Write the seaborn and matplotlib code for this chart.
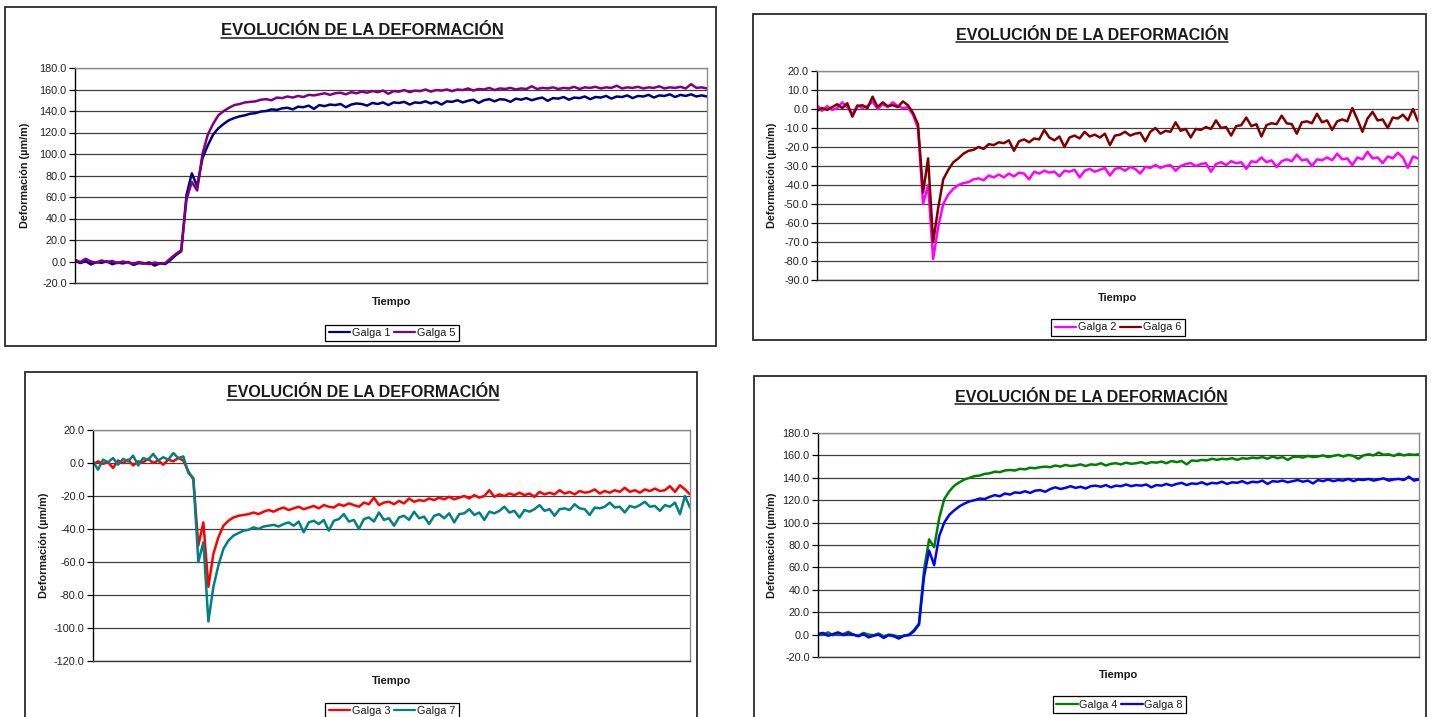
import numpy as np
import matplotlib
matplotlib.use('Agg')
import matplotlib.pyplot as plt
import seaborn as sns
from matplotlib.patches import Rectangle
from matplotlib.lines import Line2D

# Estilo
sns.set_style('white')
plt.rcParams['font.family'] = ['Liberation Sans', 'DejaVu Sans']

# Datos (deformacion en um/m)
galga_1 = [0.8, -1.5, 0.5, -2.8, -0.6, -1.2, 0.2, -2.5, -1.0, -1.8,
           -0.4, -3.2, -1.5, -2.0, -0.9, -3.8, -1.6, -2.4, 1.5, 6.0,
           9.5, 62.0, 82.0, 70.0, 96.0, 108.0, 118.0, 124.0, 128.0, 131.5,
           133.5, 135.0, 136.0, 137.5, 138.0, 139.5, 140.0, 141.5, 141.0, 142.5,
           143.0, 141.5, 144.0, 143.5, 145.0, 142.0, 145.5, 144.5, 146.0, 145.5,
           146.5, 143.5, 146.0, 147.0, 146.5, 145.0, 147.5, 146.5, 148.0, 145.5,
           148.0, 147.5, 148.5, 146.0, 148.0, 147.5, 149.0, 147.0, 148.5, 146.0,
           149.0, 148.5, 150.0, 148.0, 149.5, 150.5, 147.5, 150.0, 151.0, 149.0,
           151.0, 150.5, 148.5, 151.5, 150.5, 152.0, 150.0, 151.5, 152.5, 149.5,
           152.0, 151.5, 153.0, 150.5, 152.5, 152.0, 153.5, 151.0, 153.0, 152.5,
           154.0, 151.5, 153.5, 153.0, 154.5, 152.0, 154.0, 153.5, 155.0, 152.5,
           154.5, 154.0, 155.5, 153.0, 155.0, 154.0, 155.5, 153.5, 154.5, 153.5]
galga_5 = [1.5, -0.5, 2.5, 0.0, -1.0, 1.0, -0.5, 0.5, -1.5, 0.0,
           -1.0, -2.0, -0.5, -1.5, -2.5, -1.0, -2.0, -1.5, 3.0, 7.0,
           10.5, 58.0, 74.0, 66.0, 100.0, 118.0, 128.0, 136.0, 140.0, 143.0,
           145.5, 146.5, 148.0, 148.5, 149.0, 150.5, 151.0, 150.0, 152.5, 152.0,
           153.5, 152.5, 154.0, 153.0, 155.0, 154.5, 155.5, 156.5, 155.0, 156.5,
           157.0, 155.5, 157.5, 156.5, 158.0, 157.0, 158.5, 157.5, 159.0, 156.0,
           158.5, 158.0, 159.5, 157.5, 159.0, 158.5, 160.0, 158.0, 159.5, 159.0,
           160.0, 158.5, 160.0, 159.5, 161.0, 159.0, 160.5, 160.0, 161.5, 159.5,
           161.0, 160.5, 161.5, 160.0, 161.0, 160.5, 163.0, 160.5, 161.5, 161.0,
           162.0, 160.5, 161.5, 161.0, 162.5, 160.5, 162.0, 161.5, 162.5, 161.0,
           162.0, 161.5, 163.5, 161.0, 162.0, 161.5, 162.5, 161.0, 162.0, 161.5,
           163.0, 161.0, 162.0, 161.5, 162.5, 161.0, 165.0, 161.5, 162.0, 161.0]

galga_2 = [2.0, -1.0, 1.5, -0.5, 0.5, 3.5, 1.0, -3.0, 2.0, 0.5,
           1.5, 4.0, 0.0, 2.5, 1.0, 3.5, 1.5, 0.5, 1.0, -3.0,
           -10.0, -50.0, -40.0, -79.0, -62.0, -50.0, -45.0, -42.0, -40.0, -39.0,
           -38.5, -37.0, -36.5, -37.5, -35.0, -36.0, -34.5, -36.0, -34.0, -35.5,
           -33.5, -34.0, -37.0, -33.0, -34.0, -32.5, -33.5, -33.0, -35.5, -32.5,
           -33.0, -32.0, -36.0, -32.5, -31.5, -33.0, -32.0, -31.0, -35.0, -31.5,
           -31.0, -32.5, -30.5, -31.5, -34.0, -30.5, -31.0, -29.5, -31.0, -30.0,
           -29.5, -32.5, -30.0, -29.0, -28.5, -30.0, -29.0, -28.5, -33.0, -29.0,
           -28.0, -29.5, -27.5, -28.5, -28.0, -31.5, -27.5, -28.0, -25.5, -28.0,
           -27.0, -30.5, -27.5, -26.5, -27.5, -24.0, -27.0, -26.5, -30.0, -26.5,
           -27.0, -25.5, -27.0, -23.5, -26.5, -26.0, -29.5, -25.5, -26.5, -22.5,
           -26.0, -25.5, -28.5, -25.0, -26.0, -23.0, -25.5, -31.0, -25.0, -26.0]
galga_6 = [-1.0, 0.5, -0.5, 1.0, 2.5, 0.5, 3.0, -4.0, 1.5, 2.0,
           0.5, 6.5, 1.0, 3.5, 1.5, 2.0, 1.0, 4.0, 2.0, -2.0,
           -8.0, -44.0, -26.0, -70.0, -52.0, -37.0, -32.0, -28.0, -26.0, -23.5,
           -22.0, -21.5, -20.0, -21.0, -18.5, -19.0, -17.5, -18.0, -16.5, -22.0,
           -17.0, -16.0, -17.5, -15.5, -16.0, -11.0, -15.0, -16.5, -14.5, -20.0,
           -15.0, -14.0, -15.5, -12.0, -14.5, -13.5, -15.0, -13.0, -19.0, -14.0,
           -13.5, -12.0, -14.0, -13.0, -12.5, -17.0, -12.0, -10.0, -13.0, -11.5,
           -12.0, -7.0, -11.5, -10.5, -15.0, -10.5, -11.0, -9.5, -10.5, -6.0,
           -10.0, -9.5, -14.0, -9.0, -8.5, -4.5, -9.0, -8.0, -14.5, -8.5,
           -7.5, -8.0, -3.5, -7.5, -8.0, -13.0, -7.0, -6.5, -7.5, -2.5,
           -7.0, -6.0, -11.0, -6.5, -5.5, -6.5, 0.5, -5.5, -12.0, -5.0,
           -1.5, -6.0, -5.5, -10.0, -4.5, -5.0, -3.0, -6.0, 0.0, -6.5]

galga_3 = [-1.0, 1.0, -0.5, 0.5, -3.0, 1.5, 0.0, 2.0, -1.5, 1.0,
           0.5, 2.5, 0.0, 1.5, -1.0, 2.0, 1.0, 3.0, 1.5, -5.0,
           -10.0, -50.0, -36.0, -75.0, -55.0, -45.0, -38.0, -35.0, -33.0, -32.0,
           -31.5, -31.0, -30.0, -31.0, -29.5, -28.5, -29.5, -28.0, -27.0, -28.5,
           -27.5, -26.5, -28.0, -27.0, -26.0, -27.5, -25.5, -26.5, -27.0, -25.0,
           -26.0, -24.5, -25.5, -26.5, -24.0, -25.0, -21.0, -25.5, -24.0, -23.5,
           -25.0, -23.0, -24.5, -21.5, -23.5, -22.5, -23.0, -21.5, -22.5, -21.0,
           -22.0, -20.5, -22.0, -21.0, -20.0, -21.5, -19.5, -21.0, -20.0, -16.5,
           -20.5, -19.0, -20.0, -18.5, -19.5, -18.0, -19.5, -18.5, -20.5, -17.5,
           -19.0, -18.0, -19.0, -16.5, -18.5, -17.5, -19.0, -17.0, -18.0, -17.5,
           -16.0, -18.5, -17.0, -18.0, -16.5, -17.5, -15.0, -17.5, -16.5, -18.0,
           -16.0, -17.0, -15.5, -17.0, -16.5, -14.0, -17.5, -13.5, -16.0, -19.0]
galga_7 = [1.0, -4.0, 2.0, 0.5, 3.0, -1.0, 2.5, 1.0, 4.5, -1.5,
           3.0, 2.0, 5.5, 1.5, 3.5, 2.0, 6.0, 3.0, 4.0, -6.0,
           -9.0, -60.0, -48.0, -96.0, -75.0, -62.0, -52.0, -47.0, -44.0, -42.5,
           -41.0, -40.5, -39.0, -40.0, -38.5, -38.0, -37.5, -38.5, -37.0, -36.0,
           -38.0, -35.5, -42.0, -36.0, -35.0, -37.0, -34.5, -41.0, -35.0, -34.0,
           -31.0, -35.5, -34.5, -40.0, -34.0, -33.0, -35.5, -30.0, -34.5, -33.5,
           -38.0, -33.0, -32.0, -34.5, -29.5, -33.5, -32.5, -37.0, -32.0, -31.0,
           -33.5, -30.5, -36.0, -31.0, -30.5, -28.0, -31.5, -30.0, -34.5, -29.5,
           -30.5, -29.0, -26.5, -30.0, -29.0, -33.0, -28.5, -29.5, -28.0, -25.5,
           -29.0, -28.0, -32.0, -28.0, -27.5, -28.5, -25.0, -27.5, -28.0, -31.5,
           -27.0, -27.5, -26.5, -24.0, -27.0, -26.5, -30.0, -26.0, -27.0, -25.5,
           -23.5, -26.5, -26.0, -29.0, -25.5, -26.5, -24.0, -31.0, -20.0, -27.0]

galga_4 = [1.0, 0.0, 2.0, -0.5, 1.0, 0.5, 2.5, 0.0, -1.0, 1.5,
           0.0, -0.5, 1.0, -1.5, 0.0, -0.5, -2.5, -1.0, 0.0, 4.0,
           10.0, 58.0, 85.0, 78.0, 104.0, 121.0, 128.0, 133.0, 136.0, 138.5,
           140.0, 141.5, 142.0, 143.5, 144.0, 145.5, 145.0, 146.5, 147.0, 146.5,
           148.0, 147.5, 149.0, 148.5, 149.5, 150.0, 149.5, 151.0, 150.0, 151.5,
           150.5, 151.0, 152.0, 150.5, 152.0, 151.5, 153.0, 151.0, 152.5, 153.0,
           152.0, 153.5, 152.5, 153.0, 154.0, 152.5, 154.0, 153.5, 154.5, 153.0,
           155.0, 154.0, 155.0, 152.0, 155.5, 155.0, 156.0, 155.5, 157.0, 156.0,
           157.0, 156.5, 157.5, 156.0, 157.5, 157.0, 158.0, 157.5, 158.5, 157.0,
           159.0, 157.5, 158.5, 156.0, 158.5, 159.0, 158.0, 159.5, 158.5, 159.0,
           160.0, 158.5, 159.5, 160.5, 159.0, 160.5, 159.5, 157.0, 160.0, 161.0,
           160.0, 162.5, 160.5, 161.0, 159.5, 161.5, 160.0, 161.0, 160.5, 161.0]
galga_8 = [0.5, 1.5, -1.0, 0.5, 2.0, -0.5, 1.0, 0.0, -1.5, 0.5,
           -2.5, -1.0, 0.0, -3.0, -0.5, -1.5, -3.5, -1.0, -0.5, 3.0,
           9.0, 52.0, 75.0, 62.0, 88.0, 100.0, 107.0, 111.0, 114.5, 117.0,
           119.0, 120.0, 121.5, 121.0, 123.0, 124.5, 123.5, 126.0, 125.0, 127.0,
           126.5, 128.0, 126.5, 128.5, 129.0, 127.5, 130.0, 131.5, 130.0, 131.0,
           132.5, 131.0, 132.0, 130.5, 132.5, 133.0, 132.0, 133.5, 131.5, 133.0,
           132.5, 134.0, 132.5, 133.5, 133.0, 134.0, 131.5, 133.5, 133.0, 134.5,
           133.0, 134.5, 135.5, 133.5, 135.0, 134.5, 136.0, 134.0, 135.5, 135.0,
           136.5, 134.5, 136.0, 135.5, 137.0, 135.0, 136.5, 136.0, 137.5, 134.5,
           137.0, 136.5, 137.5, 136.0, 137.0, 138.0, 136.5, 137.5, 135.0, 138.0,
           137.0, 138.5, 137.0, 138.0, 137.5, 139.0, 137.0, 138.5, 138.0, 139.0,
           137.5, 138.5, 139.5, 137.5, 138.5, 139.0, 138.0, 141.0, 137.5, 138.5]

TITULO = 'EVOLUCIÓN DE LA DEFORMACIÓN'
YLABEL = 'Deformación (µm/m)'
XLABEL = 'Tiempo'

# Geometria en pixeles de la imagen original
W, H = 1431, 717


def fx(px):
    return px / W


def fy(py):
    return 1 - py / H


panels = [
    dict(box=(5, 7, 716, 346), plot=(75, 68, 707, 283), ylim=(-20, 180), step=20,
         series=[('Galga 1', galga_1, '#000080'), ('Galga 5', galga_5, '#800080')],
         title=(362, 35.2, 12), under=37.8, ylab=25.5, tiempo=302, leg=(392, 333)),
    dict(box=(753, 14, 1426, 340), plot=(817, 71, 1418, 280), ylim=(-90, 20), step=10,
         series=[('Galga 2', galga_2, '#FF00FF'), ('Galga 6', galga_6, '#800000')],
         title=(1092, 40.0, 11.5), under=42.3, ylab=772, tiempo=298, leg=(1118, 327.5)),
    dict(box=(25, 372, 697, 740), plot=(93, 430, 690, 661), ylim=(-120, 20), step=20,
         series=[('Galga 3', galga_3, '#FF0000'), ('Galga 7', galga_7, '#008080')],
         title=(363, 397.3, 11.5), under=400.0, ylab=44, tiempo=680.5, leg=(392, 711)),
    dict(box=(754, 376, 1426, 740), plot=(818, 433, 1419, 657), ylim=(-20, 180), step=20,
         series=[('Galga 4', galga_4, '#008000'), ('Galga 8', galga_8, '#0000FF')],
         title=(1091, 401.5, 11.5), under=404.0, ylab=772, tiempo=675.5, leg=(1119.5, 704.5)),
]

fig = plt.figure(figsize=(W / 100, H / 100), dpi=100)
fig.patch.set_facecolor('white')

titles = []
for p in panels:
    # Marco del grafico
    bx0, by0, bx1, by1 = p['box']
    fig.patches.append(Rectangle((fx(bx0), fy(by1)), fx(bx1) - fx(bx0), fy(by0) - fy(by1),
                                 transform=fig.transFigure, fill=False,
                                 edgecolor='#2b2b2b', linewidth=1.3))

    # Area de trazado
    px0, py0, px1, py1 = p['plot']
    ax = fig.add_axes([fx(px0), fy(py1), fx(px1) - fx(px0), fy(py0) - fy(py1)])
    ax.set_facecolor('white')
    for name, vals, color in p['series']:
        sns.lineplot(x=np.arange(len(vals)), y=vals, color=color, linewidth=1.8,
                     ax=ax, legend=False)
    n = len(p['series'][0][1])
    ax.set_xlim(0, n - 1)
    lo, hi = p['ylim']
    ticks = np.arange(lo, hi + p['step'] / 2, p['step'])
    ax.set_ylim(lo, hi)
    ax.set_yticks(ticks)
    ax.set_yticklabels([f'{t:.1f}' for t in ticks])
    ax.set_xticks([])
    ax.set_xlabel('')
    ax.set_ylabel('')
    ax.grid(axis='y', color='#404040', linewidth=0.9)
    ax.grid(axis='x', visible=False)
    ax.set_axisbelow(True)
    ax.spines['left'].set_color('black')
    ax.spines['left'].set_linewidth(1.0)
    ax.spines['bottom'].set_color('#3a3a3a')
    ax.spines['top'].set_color('#8c8c8c')
    ax.spines['right'].set_color('#8c8c8c')
    for s in ['bottom', 'top', 'right']:
        ax.spines[s].set_linewidth(1.0)
    ax.tick_params(axis='y', direction='out', left=True, length=4, width=0.9,
                   color='black', pad=2, labelsize=7.8, labelcolor='#222222')

    # Textos
    tx, ty, ts = p['title']
    t = fig.text(fx(tx), fy(ty), TITULO, ha='center', va='baseline', fontsize=ts,
                 fontweight='bold', color='#1a1a1a')
    titles.append((t, p['under']))
    fig.text(fx(p['ylab']), fy((py0 + py1) / 2), YLABEL, rotation=90, ha='center',
             va='center', fontsize=7.8, fontweight='bold', color='#1a1a1a')
    fig.text(fx((px0 + px1) / 2), fy(p['tiempo']), XLABEL, ha='center', va='center',
             fontsize=8, fontweight='bold', color='#1a1a1a')

    # Leyenda
    handles = [Line2D([], [], color=c, linewidth=1.6) for _, _, c in p['series']]
    labels = [name for name, _, _ in p['series']]
    lx, ly = p['leg']
    leg = ax.legend(handles, labels, ncol=2, loc='center', bbox_to_anchor=(fx(lx), fy(ly)),
                    bbox_transform=fig.transFigure, frameon=True, fancybox=False,
                    framealpha=1, edgecolor='black', fontsize=7.8, handlelength=2.0,
                    handletextpad=0.15, columnspacing=0.3, borderpad=0.3, borderaxespad=0)
    leg.get_frame().set_linewidth(0.9)
    for txt in leg.get_texts():
        txt.set_color('#1a1a1a')

# Subrayado de los titulos
fig.canvas.draw()
for t, uy in titles:
    bb = t.get_window_extent()
    fig.add_artist(Line2D([bb.x0 / W, bb.x1 / W], [fy(uy), fy(uy)],
                          transform=fig.transFigure, color='#1a1a1a', linewidth=1.1))

fig.savefig('out.png', dpi=100, facecolor='white')
